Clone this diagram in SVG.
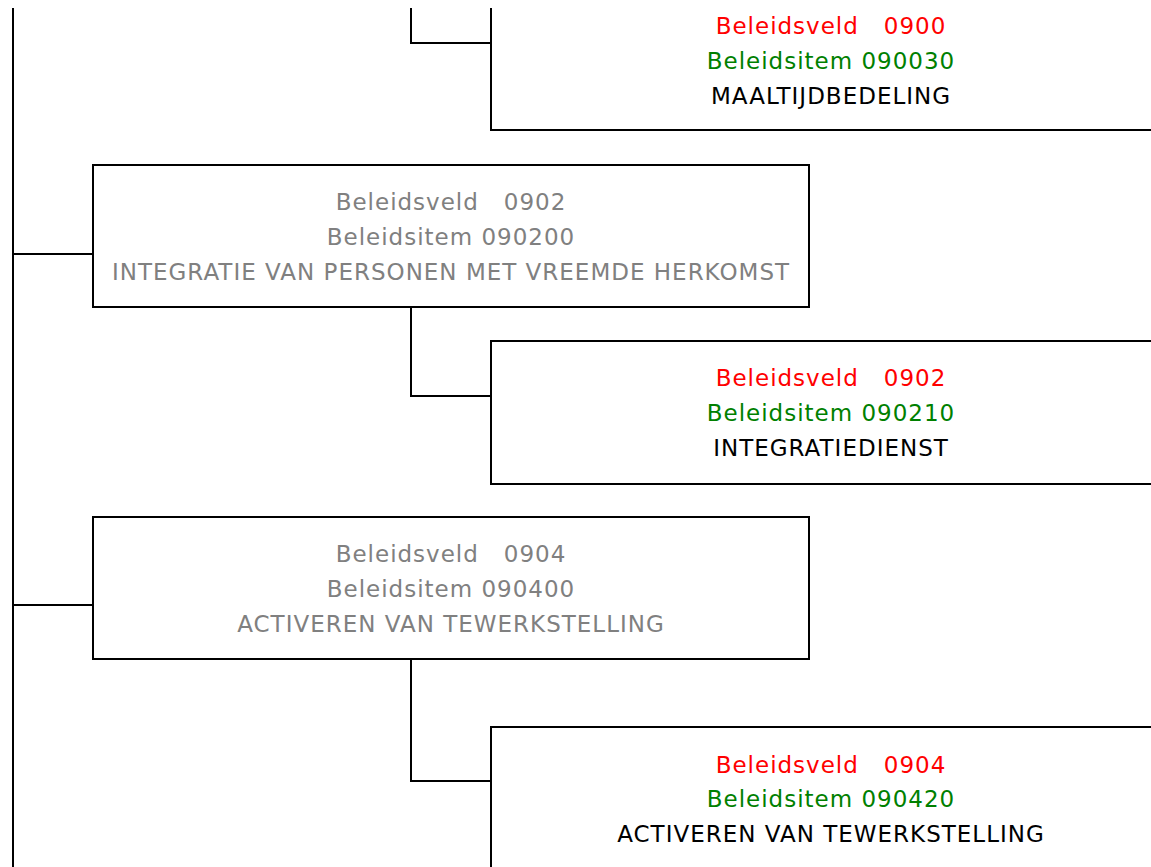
<svg xmlns="http://www.w3.org/2000/svg" width="1151" height="867" viewBox="0 0 1151 867">
<style>
.box{fill:#fff;stroke:#000;stroke-width:2}
.c{fill:none;stroke:#000;stroke-width:2}
text{font-family:"DejaVu Sans",Verdana,sans-serif;font-size:23px;letter-spacing:1px;text-anchor:middle;white-space:pre}
.r{fill:#ff0000}.g{fill:#008000}.k{fill:#000}.gr{fill:#808080}
</style>
<rect width="1151" height="867" fill="#fff"/>
<g id="connectors">
<path class="c" d="M13 8V867"/>
<path class="c" d="M411 8V43H491"/>
<path class="c" d="M13 254H93"/>
<path class="c" d="M411 307V396H491"/>
<path class="c" d="M13 605H93"/>
<path class="c" d="M411 659V781H491"/>
</g>
<g id="n090030">
<path class="box" d="M491 8V130H1160"/>
<text x="831" y="34" class="r">Beleidsveld   0900</text>
<text x="831" y="69" class="g">Beleidsitem 090030</text>
<text x="831" y="104" class="k">MAALTIJDBEDELING</text>
</g>
<g id="n090200">
<rect class="box" x="93" y="165" width="716" height="142"/>
<text x="451" y="210" class="gr">Beleidsveld   0902</text>
<text x="451" y="245" class="gr">Beleidsitem 090200</text>
<text x="451" y="280" class="gr">INTEGRATIE VAN PERSONEN MET VREEMDE HERKOMST</text>
</g>
<g id="n090210">
<rect class="box" x="491" y="341" width="680" height="143"/>
<text x="831" y="386" class="r">Beleidsveld   0902</text>
<text x="831" y="421" class="g">Beleidsitem 090210</text>
<text x="831" y="456" class="k">INTEGRATIEDIENST</text>
</g>
<g id="n090400">
<rect class="box" x="93" y="517" width="716" height="142"/>
<text x="451" y="562" class="gr">Beleidsveld   0904</text>
<text x="451" y="597" class="gr">Beleidsitem 090400</text>
<text x="451" y="632" class="gr">ACTIVEREN VAN TEWERKSTELLING</text>
</g>
<g id="n090420">
<rect class="box" x="491" y="727" width="680" height="160"/>
<text x="831" y="773" class="r">Beleidsveld   0904</text>
<text x="831" y="807" class="g">Beleidsitem 090420</text>
<text x="831" y="842" class="k">ACTIVEREN VAN TEWERKSTELLING</text>
</g>
</svg>
